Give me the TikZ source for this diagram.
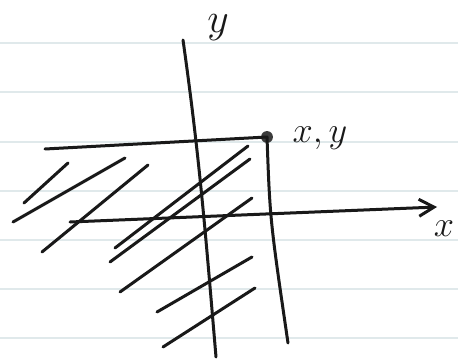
\documentclass[tikz,border=0pt]{standalone}
\usepackage{amsmath}
\usetikzlibrary{arrows.meta}
\definecolor{paperline}{RGB}{224,233,235}
\definecolor{ink}{RGB}{25,25,25}

\begin{document}
\begin{tikzpicture}[x=1pt, y=-1pt, >={Straight Barb[length=15pt,width=17pt]},
                    pen/.style={draw=ink, line width=3pt, line cap=round, line join=round},
                    rule/.style={draw=paperline, line width=2pt},
                    dot/.style={circle, fill=ink!85, inner sep=4.2pt},
                    lbl/.style={text=ink, font=\huge, inner sep=0pt, scale=1.75}]
  \useasboundingbox[fill=white] (0,0) rectangle (458,361);
  \foreach \ly in {43,92,142,191,240,289,338}
    \draw[rule] (0,\ly) -- (458,\ly);
  \draw[pen] (183,40) .. controls (200,160) and (206,240) .. (216,357);
  \node[lbl, scale=1.15] (ylab) at (218,28) {$y$};
  \coordinate (tl) at (45,149);
  \coordinate (br) at (288,343);
  \node[dot] (P) at (267,137) {};
  \draw[pen] (tl) -- (P.center) .. controls (270,220) .. (br);
  \node[lbl] (xylab) at (320,138) {$x,y$};
  \coordinate (xs) at (70,222);
  \coordinate (xe) at (437,207);
  \draw[pen, ->] (xs) -- (xe);
  \node[lbl] (xlab) at (444,229) {$x$};
  \foreach \ax/\ay/\bx/\by in {24/203/68/163, 13/222/125/158, 42/252/148/165,
                               115/248/248/146, 110/262/250/159, 120/292/252/198,
                               157/312/252/257, 163/347/255/288}
    \draw[pen] (\ax,\ay) -- (\bx,\by);
\end{tikzpicture}
\end{document}
